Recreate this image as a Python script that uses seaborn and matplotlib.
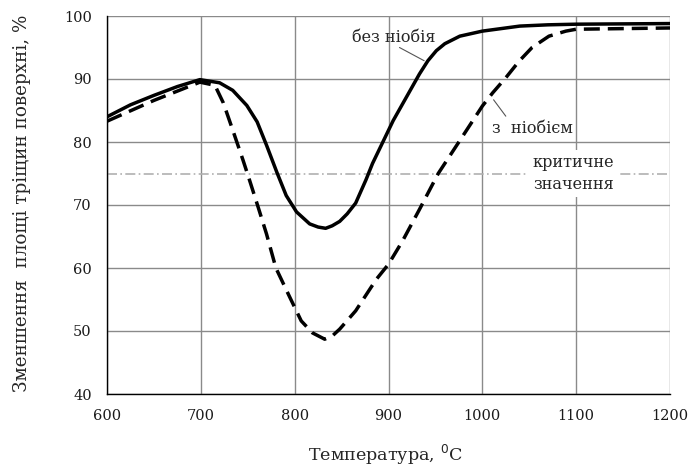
import numpy as np
import pandas as pd
import matplotlib
matplotlib.use("Agg")
import matplotlib.pyplot as plt
import seaborn as sns

# --- data ---
temp_no_nb = [600, 625, 650, 675, 699, 720, 734, 749, 760, 770, 781, 791, 802,
              816, 825, 833, 840, 848, 856, 865, 876, 883, 894, 905, 919, 933, 942, 951, 960,
              976, 1000, 1040, 1070, 1100, 1150, 1200]
val_no_nb = [84.0, 85.9, 87.4, 88.8, 89.9, 89.4, 88.2, 85.8, 83.2, 79.5, 75.2, 71.5, 68.9,
             67.0, 66.5, 66.3, 66.7, 67.4, 68.6, 70.3, 74.0, 76.6, 80.0, 83.4, 87.1, 90.8, 92.9, 94.5, 95.6,
             96.8, 97.6, 98.4, 98.6, 98.7, 98.75, 98.8]

temp_nb = [600, 650, 699, 715, 724, 734, 745, 752, 761, 770, 780, 795, 807, 819, 832,
           840, 848, 865, 887, 900, 915, 933, 953, 975, 1000, 1011, 1025, 1039, 1053, 1071,
           1089, 1100, 1150, 1200]
val_nb = [83.3, 86.6, 89.5, 89.0, 86.2, 81.9, 77.1, 73.9, 69.7, 65.4, 60.0, 55.3, 51.6, 49.7, 48.7,
          49.2, 50.3, 53.2, 58.2, 60.6, 64.3, 69.3, 75.0, 80.0, 85.7, 87.8, 90.2, 92.8, 95.0, 96.8,
          97.6, 97.9, 98.0, 98.1]

critical_value = 75
x_ticks = [600, 700, 800, 900, 1000, 1100, 1200]
y_ticks = [40, 50, 60, 70, 80, 90, 100]

label_no_nb = "без ніобія"
label_nb = "з  ніобієм"
label_crit = "критичне\nзначення"
xlabel = "Температура, $^0$C"
ylabel = "Зменшення  площі тріщин поверхні, %"

df1 = pd.DataFrame({"T": temp_no_nb, "v": val_no_nb})
df2 = pd.DataFrame({"T": temp_nb, "v": val_nb})

sns.set_style("white")
plt.rcParams["font.family"] = ["DejaVu Serif"]

fig = plt.figure(figsize=(6.89, 4.68), dpi=100)
ax = fig.add_axes([107/689, 1-394/468, (670-107)/689, (394-16)/468])

ax.set_xlim(600, 1200)
ax.set_ylim(40, 100)
ax.set_xticks(x_ticks)
ax.set_yticks(y_ticks)
ax.set_xticks([650, 750, 850, 950, 1050, 1150], minor=True)
ax.grid(True, which="major", color="#8a8a8a", linewidth=1.0)
ax.set_axisbelow(True)

# critical line
ax.axhline(critical_value, color="#b0b0b0", linewidth=1.2, linestyle=(0, (6, 2, 1, 2)), zorder=1)

sns.lineplot(data=df1, x="T", y="v", ax=ax, color="black", linewidth=2.5, zorder=3)
sns.lineplot(data=df2, x="T", y="v", ax=ax, color="black", linewidth=2.5,
             linestyle=(0, (4.6, 2.3)), zorder=3)

for s in ["top", "right"]:
    ax.spines[s].set_visible(False)
for s in ["left", "bottom"]:
    ax.spines[s].set_color("black")
    ax.spines[s].set_linewidth(1.0)

ax.tick_params(axis="both", which="major", direction="out", length=7, width=1,
               color="black", labelsize=10.5, pad=4, labelcolor="#1a1a1a")
ax.tick_params(axis="x", which="minor", direction="out", length=3, width=1, color="#555555")

ax.set_xlabel(xlabel, fontsize=12.6)
ax.set_ylabel(ylabel, fontsize=13.2)
ax.xaxis.set_label_coords(0.494, -0.161)
ax.yaxis.set_label_coords(-0.151, 0.505)
ax.xaxis.label.set_va("center")
ax.yaxis.label.set_va("center")

# annotations
ann_fs = 11.6
ax.text(906, 96.6, label_no_nb, fontsize=ann_fs, ha="center", va="center")
ax.plot([911.7, 938], [95.0, 92.9], color="#555555", linewidth=0.8, zorder=2)
ax.plot([1012, 1025], [86.7, 84.1], color="#555555", linewidth=0.8, zorder=2)
ax.text(1053, 82.2, label_nb, fontsize=ann_fs, ha="center", va="center")
ax.text(1097, 75.0, label_crit, fontsize=ann_fs, ha="center", va="center",
        linespacing=1.35,
        bbox=dict(facecolor="white", edgecolor="none", pad=3), zorder=2)

fig.savefig("out.png", dpi=100)
